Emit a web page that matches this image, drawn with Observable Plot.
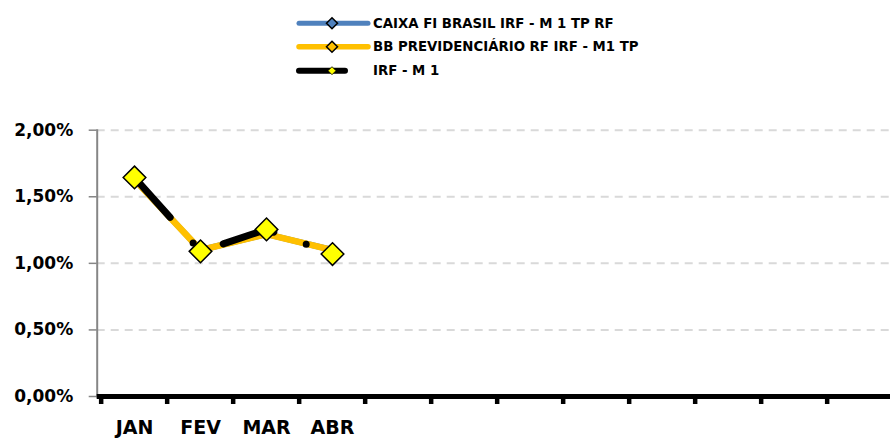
<!DOCTYPE html>
<html>
<head>
<meta charset="utf-8">
<script src="https://cdn.jsdelivr.net/npm/d3@7"></script>
<script src="https://cdn.jsdelivr.net/npm/@observablehq/plot@0.6"></script>
<style>
  html, body { margin: 0; padding: 0; background: #fff; }
  #chart { width: 890px; height: 438px; overflow: hidden; font-family: "DejaVu Sans", sans-serif; }
  svg { display: block; }
</style>
</head>
<body>
<div id="chart"></div>
<script>
// ---- data ----
const categories = ["JAN","FEV","MAR","ABR","MAI","JUN","JUL","AGO","SET","OUT","NOV","DEZ"];
const tickLabels = ["JAN","FEV","MAR","ABR","","","","","","","",""];
const seriesNames = ["CAIXA FI BRASIL IRF - M 1 TP RF", "BB PREVIDENCIÁRIO RF IRF - M1 TP", "IRF - M 1"];
const caixa = [1.63, 1.10, 1.22, 1.10];
const bb    = [1.63, 1.10, 1.22, 1.10];
const irf   = [1.645, 1.09, 1.255, 1.07];
const yTicks = [0, 0.5, 1, 1.5, 2];

const toRows = (vals) => vals.map((v, i) => ({cat: categories[i], v}));
const caixaRows = toRows(caixa), bbRows = toRows(bb), irfRows = toRows(irf);
const fmt = d => d.toFixed(2).replace(".", ",") + "%";

const FONT = "DejaVu Sans";
const root = d3.select("#chart");

// ---- legend ----
const legendItems = [
  {name: seriesNames[0], color: "#4F81BD", mfill: "#4F81BD", mr: 5.5, x2: 368, w: 5},
  {name: seriesNames[1], color: "#FFC000", mfill: "#FFC000", mr: 5.5, x2: 368, w: 5.5},
  {name: seriesNames[2], color: "#000000", mfill: "#FFFF00", mr: 4, x2: 345, w: 6}
];
const rowY = [23.3, 46.7, 70.7];
const leg = root.append("svg").attr("width", 890).attr("height", 95);
legendItems.forEach((it, i) => {
  const g = leg.append("g").attr("transform", `translate(0,${rowY[i]})`);
  g.append("line").attr("x1", 299).attr("x2", it.x2).attr("y1", 0).attr("y2", 0)
    .attr("stroke", it.color).attr("stroke-width", it.w).attr("stroke-linecap", "round");
  const r = it.mr;
  g.append("path").attr("d", `M332,${-r}L${332 + r},0L332,${r}L${332 - r},0Z`)
    .attr("fill", it.mfill).attr("stroke", "#000").attr("stroke-width", i === 2 ? 0.8 : 1.5);
  g.append("text").attr("x", 373).attr("y", 0).attr("dy", "0.36em")
    .attr("font-family", FONT).attr("font-weight", "bold").attr("font-size", 13.3)
    .attr("fill", "#000").text(it.name);
});

// ---- plot ----
const bw = (896.7 - 96.7) / categories.length;
const chart = Plot.plot({
  width: 890,
  height: 343,
  marginLeft: 96.7,
  marginRight: 0,
  marginTop: 34.7,
  marginBottom: 42,
  style: {fontFamily: FONT, background: "#fff", overflow: "visible"},
  x: {type: "band", domain: categories, range: [96.7, 896.7], padding: 0, axis: null},
  y: {domain: [0, 2], axis: null},
  marks: [
    Plot.gridY(yTicks.filter(d => d > 0), {stroke: "#d9d9d9", strokeOpacity: 1, strokeWidth: 2, strokeDasharray: "8,6"}),
    Plot.line(caixaRows, {x: "cat", y: "v", stroke: "#4F81BD", strokeWidth: 6, strokeLinejoin: "round", strokeLinecap: "round"}),
    Plot.line(bbRows, {x: "cat", y: "v", stroke: "#FFC000", strokeWidth: 6.5, strokeLinejoin: "round", strokeLinecap: "round"}),
    Plot.line(irfRows, {x: "cat", y: "v", stroke: "#000", strokeWidth: 7, strokeLinejoin: "round", strokeLinecap: "round", strokeDasharray: "53.5,34.5,0,35"}),
    Plot.dot(irfRows, {x: "cat", y: "v", symbol: "diamond2", r: 10.2, fill: "#FFFF00", stroke: "#000", strokeWidth: 1.5}),
    Plot.frame({anchor: "left", stroke: "#868686", strokeWidth: 2}),
    Plot.axisY({ticks: yTicks, tickSize: 8, tickPadding: 16, stroke: "#868686", strokeWidth: 1.5, fill: "#000",
      fontSize: 17, fontWeight: "bold", tickFormat: fmt, label: null}),
    Plot.ruleY([0], {stroke: "#000", strokeWidth: 5}),
    Plot.axisX({tickSize: 8, tickPadding: 0, dx: -bw / 2, stroke: "#000", strokeWidth: 4.5, tickFormat: () => "", label: null}),
    Plot.axisX({tickSize: 0, tickPadding: 23.5, fill: "#000", fontSize: 19, fontWeight: "bold",
      tickFormat: d => tickLabels[categories.indexOf(d)], label: null})
  ]
});
root.node().appendChild(chart);
</script>
</body>
</html>
